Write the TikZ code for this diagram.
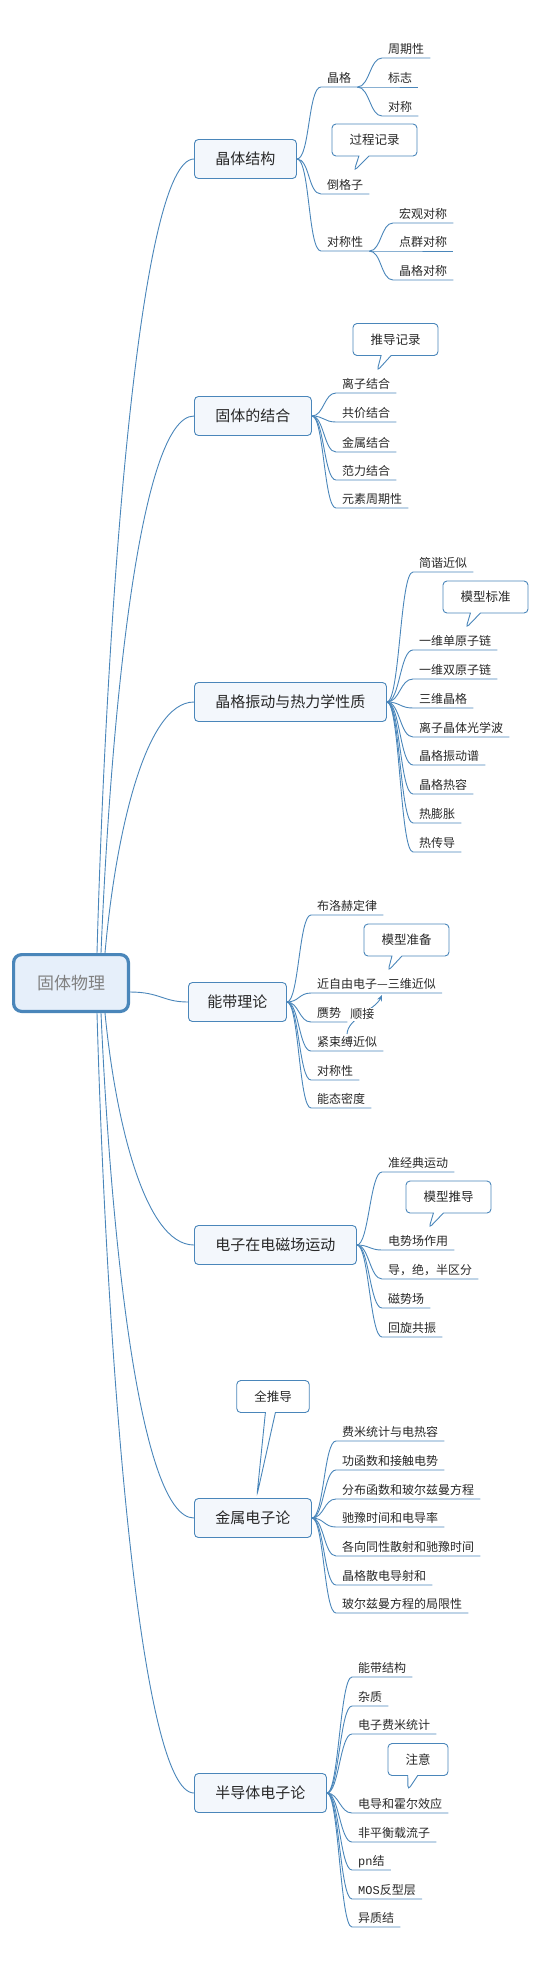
\documentclass[tikz,border=0pt]{standalone}
\usepackage{fontspec}
\setmainfont{Noto Sans CJK SC}
\setmonofont{Liberation Mono}
\usetikzlibrary{arrows.meta,shapes.callouts,calc}

\definecolor{linecol}{RGB}{74,134,186}
\definecolor{boxfill}{RGB}{243,247,252}
\definecolor{rootfill}{RGB}{230,239,250}
\definecolor{txtcol}{RGB}{40,40,40}
\definecolor{roottxt}{RGB}{128,128,128}
\newcommand\leaffont{\fontsize{12}{14}\selectfont}
\newcommand\topicfont{\fontsize{15}{18}\selectfont}

\tikzset{
  branch/.style={draw=linecol,line width=0.9pt},
  rootbox/.style={draw=linecol,fill=rootfill,line width=3.2pt,rounded corners=8pt,
    minimum width=114.8pt,minimum height=56.8pt,text=roottxt,font=\fontsize{17}{20}\selectfont},
  topic/.style={draw=linecol,fill=boxfill,line width=0.9pt,rounded corners=4pt,anchor=west,
    minimum height=39pt,inner xsep=21pt,text=txtcol,font=\topicfont},
  leaf/.style={anchor=south west,inner xsep=6pt,inner ysep=2.5pt,text height=10pt,
    text depth=2pt,text=txtcol,font=\leaffont},
  note/.style={rectangle callout,draw=linecol,fill=white,line width=0.9pt,rounded corners=4pt,
    minimum height=32pt,inner xsep=17.5pt,callout pointer width=10pt,text=txtcol,
    font=\fontsize{12.5}{15}\selectfont},
  rel/.style={draw=linecol,line width=0.9pt,-{Stealth[length=6pt,width=5pt]}}
}

\begin{document}
\begin{tikzpicture}[x=1pt,y=-1pt]
    \useasboundingbox (0,0) rectangle (539,1965);

    % centre
    \node[rootbox] (root) at (71,983) {固体物理};

    % 晶体结构
    \node[topic] (t1) at (194,159) {晶体结构};
    \foreach \i/\txt/\y in {1/晶格/87,2/倒格子/194,3/对称性/251} {
        \node[leaf] (t1-\i) at (321,\y) {\txt};
        \draw[branch] (t1.east) .. controls +(13,0) and +(-13,0) .. (t1-\i.south west) -- (t1-\i.south east);
    }
    \foreach \i/\txt/\y in {1/周期性/58,2/标志/87,3/对称/116} {
        \node[leaf] (t1-1-\i) at (382,\y) {\txt};
        \draw[branch] (t1-1.south east) .. controls +(12,0) and +(-12,0) .. (t1-1-\i.south west) -- (t1-1-\i.south east);
    }
    \foreach \i/\txt/\y in {1/宏观对称/223,2/点群对称/251,3/晶格对称/280} {
        \node[leaf] (t1-3-\i) at (393,\y) {\txt};
        \draw[branch] (t1-3.south east) .. controls +(12,0) and +(-12,0) .. (t1-3-\i.south west) -- (t1-3-\i.south east);
    }
    \node[note,callout absolute pointer={(354,171)}] (c1) at (374.5,140) {过程记录};

    % 固体的结合
    \node[topic] (t2) at (194,416) {固体的结合};
    \foreach \i/\txt/\y in {1/离子结合/393,2/共价结合/422,3/金属结合/452,4/范力结合/480,5/元素周期性/508} {
        \node[leaf] (t2-\i) at (336,\y) {\txt};
        \draw[branch] (t2.east) .. controls +(12,0) and +(-12,0) .. (t2-\i.south west) -- (t2-\i.south east);
    }
    \node[note,callout absolute pointer={(377,371)}] (c2) at (395.5,339.5) {推导记录};

    % 晶格振动与热力学性质
    \node[topic] (t3) at (194,702) {晶格振动与热力学性质};
    \foreach \i/\txt/\y in {1/简谐近似/572,2/一维单原子链/650,3/一维双原子链/679,4/三维晶格/708,
        5/离子晶体光学波/737,6/晶格振动谱/765,7/晶格热容/794,8/热膨胀/823,9/热传导/852} {
        \node[leaf] (t3-\i) at (413,\y) {\txt};
        \draw[branch] (t3.east) .. controls +(13,0) and +(-13,0) .. (t3-\i.south west) -- (t3-\i.south east);
    }
    \node[note,callout absolute pointer={(466,628)}] (c3) at (485.5,597) {模型标准};

    % 能带理论
    \node[topic,inner xsep=19pt] (t4) at (188,1002) {能带理论};
    \foreach \i/\txt/\y in {1/布洛赫定律/915,2/近自由电子—三维近似/993,3/赝势/1022,4/紧束缚近似/1051,
        5/对称性/1080,6/能态密度/1108} {
        \node[leaf] (t4-\i) at (311,\y) {\txt};
        \draw[branch] (t4.east) .. controls +(12,0) and +(-12,0) .. (t4-\i.south west) -- (t4-\i.south east);
    }
    \node[note,callout absolute pointer={(388,971)}] (c4) at (406.5,940) {模型准备};
    \coordinate (ra) at ($(t4-4.south west)+(36,-17)$);
    \coordinate (rb) at ($(t4-2.south west)+(71,2)$);
    \draw[rel] (ra) .. controls +(1,-16) and +(-7,15) .. (rb)
        node[pos=0.5,fill=white,inner sep=1pt,text=txtcol,font=\leaffont] (lk) {顺接};

    % 电子在电磁场运动
    \node[topic] (t5) at (194,1245) {电子在电磁场运动};
    \foreach \i/\txt/\y in {1/准经典运动/1172,2/电势场作用/1250,3/导，绝，半区分/1279,4/磁势场/1308,5/回旋共振/1337} {
        \node[leaf] (t5-\i) at (382,\y) {\txt};
        \draw[branch] (t5.east) .. controls +(12,0) and +(-12,0) .. (t5-\i.south west) -- (t5-\i.south east);
    }
    \node[note,callout absolute pointer={(429,1228)}] (c5) at (448.5,1197) {模型推导};

    % 金属电子论
    \node[topic] (t6) at (194,1518) {金属电子论};
    \foreach \i/\txt/\y in {1/费米统计与电热容/1441,2/功函数和接触电势/1470,3/分布函数和玻尔兹曼方程/1499,
        4/驰豫时间和电导率/1527,5/各向同性散射和驰豫时间/1556,6/晶格散电导射和/1585,7/玻尔兹曼方程的局限性/1613} {
        \node[leaf] (t6-\i) at (336,\y) {\txt};
        \draw[branch] (t6.east) .. controls +(12,0) and +(-12,0) .. (t6-\i.south west) -- (t6-\i.south east);
    }
    \node[note,callout absolute pointer={(257,1495)}] (c6) at (273,1396.5) {全推导};

    % 半导体电子论
    \node[topic] (t7) at (194,1793) {半导体电子论};
    \foreach \i/\txt/\y in {1/能带结构/1677,2/杂质/1706,3/电子费米统计/1734,4/电导和霍尔效应/1813,
        5/非平衡载流子/1842,6/{\ttfamily pn}结/1870,7/{\ttfamily MOS}反型层/1899,8/异质结/1927} {
        \node[leaf] (t7-\i) at (352,\y) {\txt};
        \draw[branch] (t7.east) .. controls +(12,0) and +(-12,0) .. (t7-\i.south west) -- (t7-\i.south east);
    }
    \node[note,callout absolute pointer={(408,1790)}] (c7) at (418,1759.5) {注意};

    % branches from the centre
    \draw[branch] ([xshift=26pt]root.north) .. controls +(10,-357) and +(-54,0) .. (t1.west);
    \draw[branch] ([xshift=30pt]root.north) .. controls +(10,-242) and +(-54,0) .. (t2.west);
    \draw[branch] ([xshift=34pt]root.north) .. controls +(10,-113) and +(-50,0) .. (t3.west);
    \draw[branch] ([yshift=-9pt]root.east) .. controls +(30,0) and +(-25,0) .. (t4.west);
    \draw[branch] ([xshift=34pt]root.south) .. controls +(10,104) and +(-50,0) .. (t5.west);
    \draw[branch] ([xshift=30pt]root.south) .. controls +(10,227) and +(-54,0) .. (t6.west);
    \draw[branch] ([xshift=26pt]root.south) .. controls +(10,351) and +(-54,0) .. (t7.west);
\end{tikzpicture}
\end{document}
